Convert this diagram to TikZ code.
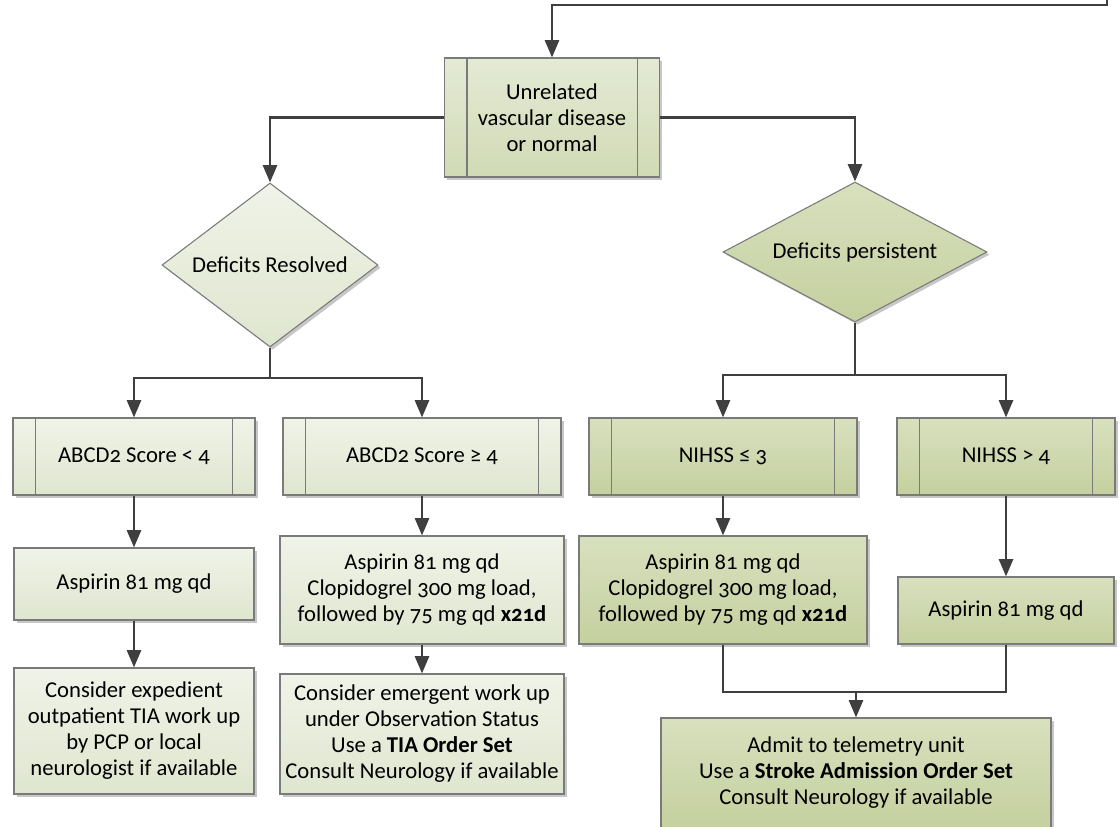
\documentclass[tikz,border=0pt]{standalone}
\usepackage{fontspec}
\setmainfont{Carlito}[Numbers=OldStyle]
\usetikzlibrary{shapes.geometric,arrows.meta,shadows,calc}
\newdimen\pxu \pxu=0.75pt
\definecolor{lgtop}{HTML}{F0F3E8}
\definecolor{lgbot}{HTML}{DFE6CF}
\definecolor{mdtop}{HTML}{E4EAD5}
\definecolor{mdbot}{HTML}{D1DAB5}
\definecolor{dktop}{HTML}{D8E0BE}
\definecolor{dkbot}{HTML}{C5D09F}
\definecolor{bordergray}{HTML}{7A7A7A}
\definecolor{linegray}{HTML}{3F3F3F}
\begin{document}
\begin{tikzpicture}[x=0.75pt,y=-0.75pt,
  font=\fontsize{17}{19.5}\selectfont,
  base/.style={draw=bordergray, line width=0.8pt, align=center, inner sep=2pt,
    drop shadow={shadow xshift=2pt, shadow yshift=-2pt, opacity=0.22, fill=black}},
  light/.style={top color=lgtop, bottom color=lgbot},
  medium/.style={top color=mdtop, bottom color=mdbot},
  dark/.style={top color=dktop, bottom color=dkbot},
  box/.style={base, rectangle},
  dia/.style={base, diamond, inner sep=0pt},
  bar/.style={draw=bordergray, line width=0.8pt},
  ln/.style={draw=linegray, line width=2pt},
  arr/.style={ln, -{Triangle[length=13pt,width=10.5pt]}}]
\useasboundingbox (0,0) rectangle (1120,826);

% nodes
\node[box, medium, minimum width=215\pxu, minimum height=119\pxu] (top) at (552,117.5)
  {Unrelated\\vascular disease\\or normal};
\node[dia, light, aspect=1.4, minimum width=216\pxu, minimum height=164\pxu] (d1) at (270,265) {Deficits Resolved};
\node[dia, dark, aspect=1.9, minimum width=264\pxu, minimum height=140\pxu] (d2) at (855,252) {Deficits persistent};

\node[box, light, minimum width=242\pxu, minimum height=77\pxu] (b1) at (134,456.5) {ABCD2 Score < 4};
\node[box, light, minimum width=278\pxu, minimum height=77\pxu] (b2) at (422,456.5) {ABCD2 Score ≥\ 4};
\node[box, dark, minimum width=268\pxu, minimum height=77\pxu] (b3) at (723,456.5) {NIHSS ≤ 3};
\node[box, dark, minimum width=218\pxu, minimum height=77\pxu] (b4) at (1006,456.5) {NIHSS > 4};

\node[box, light, minimum width=240\pxu, minimum height=72\pxu] (c1) at (134,584) {Aspirin 81 mg qd};
\node[box, light, minimum width=284\pxu, minimum height=108\pxu] (c2) at (422,590)
  {Aspirin 81 mg qd\\Clopidogrel 300 mg load,\\followed by 75 mg qd \textbf{x21d}};
\node[box, dark, minimum width=288\pxu, minimum height=108\pxu] (c3) at (723,590)
  {Aspirin 81 mg qd\\Clopidogrel 300 mg load,\\followed by 75 mg qd \textbf{x21d}};
\node[box, dark, minimum width=216\pxu, minimum height=67\pxu] (c4) at (1006,610.5) {Aspirin 81 mg qd};

\node[box, light, minimum width=240\pxu, minimum height=126\pxu] (e1) at (134,731)
  {Consider expedient\\outpatient TIA work up\\by PCP or local\\neurologist if available};
\node[box, light, minimum width=284\pxu, minimum height=120\pxu] (e2) at (422,734)
  {Consider emergent work up\\under Observation Status\\Use a \textbf{TIA Order Set}\\Consult Neurology if available};
\node[box, dark, minimum width=390\pxu, minimum height=110\pxu] (adm) at (856,773)
  {Admit to telemetry unit\\Use a \textbf{Stroke Admission Order Set}\\Consult Neurology if available};

% predefined-process bars
\foreach \n in {top,b1,b2,b3,b4}{
  \draw[bar] ([xshift=23\pxu]\n.north west) -- ([xshift=23\pxu]\n.south west)
             ([xshift=-23\pxu]\n.north east) -- ([xshift=-23\pxu]\n.south east);
}

% connectors
\coordinate (start) at (1107,-3);
\coordinate (topbend) at (552,5);
\draw[arr] (start) |- (topbend) -- (top.north);
\draw[arr] (top.west) -| (d1.north);
\draw[arr] (top.east) -| (d2.north);

\coordinate (s1) at (270,378);
\draw[ln] (d1.south) -- (s1);
\draw[arr] (s1) -| (b1.north);
\draw[arr] (s1) -| (b2.north);

\coordinate (s2) at (855,375);
\draw[ln] (d2.south) -- (s2);
\draw[arr] (s2) -| (b3.north);
\draw[arr] (s2) -| (b4.north);

\draw[arr] (b1.south) -- (c1.north);
\draw[arr] (b2.south) -- (c2.north);
\draw[arr] (b3.south) -- (c3.north);
\draw[arr] (b4.south) -- (c4.north);
\draw[arr] (c1.south) -- (e1.north);
\draw[arr] (c2.south) -- (e2.north);

\coordinate (m) at (856,692);
\draw[ln] (c3.south) |- (m);
\draw[ln] (c4.south) |- (m);
\draw[arr] (m) -- (adm.north);
\end{tikzpicture}
\end{document}
